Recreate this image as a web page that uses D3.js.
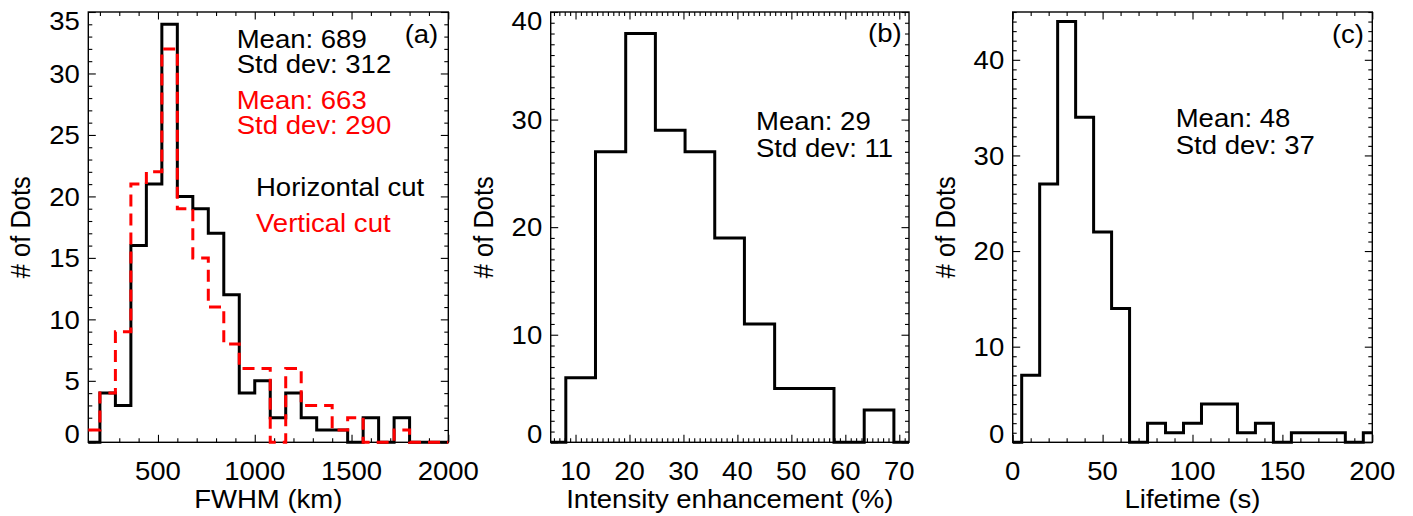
<!DOCTYPE html>
<html>
<head>
<meta charset="utf-8">
<script src="https://cdn.jsdelivr.net/npm/d3@7"></script>
<style>
  body { margin: 0; background: #fff; }
  svg { display: block; }
  text { font-family: "Liberation Sans", Arial, Helvetica, sans-serif; }
</style>
</head>
<body>
<svg id="fig" width="1413" height="516"></svg>
<script>
// (a) FWHM histograms: lower bin edges (km) and counts
const fwhmEdges = [140, 200, 280, 360, 440, 520, 600, 680, 760, 840, 920, 1000, 1080, 1160, 1240, 1320, 1400, 1480, 1560, 1640, 1720, 1800];
const fwhmHorizontal = [0, 4, 3, 16, 21, 34, 20, 19, 17, 12, 4, 5, 2, 4, 2, 1, 1, 0, 2, 0, 2, 0];
const fwhmVertical   = [1, 4, 9, 21, 22, 32, 19, 15, 11, 8, 6, 6, 0, 6, 3, 3, 1, 2, 0, 0, 1, 0];

// (b) intensity enhancement (%)
const intensityEdges  = [5.4, 8.2, 13.7, 19.3, 24.8, 30.3, 35.8, 41.3, 46.9, 52.4, 57.9, 63.5, 69.0];
const intensityCounts = [0, 6, 27, 38, 29, 27, 19, 11, 5, 5, 0, 3, 0];

// (c) lifetime (s)
const lifetimeEdges  = [0, 5, 15, 25, 35, 45, 55, 65, 75, 85, 95, 105, 115, 125, 135, 145, 155, 165, 175, 185, 195];
const lifetimeCounts = [0, 7, 27, 44, 34, 22, 14, 0, 2, 1, 2, 4, 4, 1, 2, 0, 1, 1, 1, 0, 1];

// tick labels
const fwhmTicks = [500, 1000, 1500, 2000];
const intensityTicks = [10, 20, 30, 40, 50, 60, 70];
const lifetimeTicks = [0, 50, 100, 150, 200];
const countTicksA = [0, 5, 10, 15, 20, 25, 30, 35];
const countTicksB = [0, 10, 20, 30, 40];
const countTicksC = [0, 10, 20, 30, 40];

const FS = 25.5;     // font size
const SX = 1.08;     // the original figure is a bit wider than tall
const TOP = 12, BOTTOM = 442.3;

const svg = d3.select("#fig");

function txt(g, x, y, s, anchor, color, rot) {
    let tr = `translate(${x},${y}) scale(${SX},1)` + (rot ? " rotate(-90)" : "");
    return g.append("text")
        .attr("transform", tr)
        .attr("text-anchor", anchor || "start")
        .attr("font-size", FS)
        .attr("fill", color || "#000")
        .text(s);
}

function drawPanel(p) {
    const g = svg.append("g");
    const x = d3.scaleLinear().domain(p.xDomain).range([p.left, p.right]);
    const y = d3.scaleLinear().domain(p.yDomain).range([BOTTOM, TOP]);

    // ticks on all four sides, pointing inward
    const ax = [
        [d3.axisBottom, BOTTOM, x], [d3.axisTop, TOP, x]
    ];
    ax.forEach(([fn, pos, sc]) => {
        g.append("g").attr("transform", `translate(0,${pos})`)
            .call(fn(sc).tickValues(p.xMinor).tickSize(-4).tickFormat(""))
            .call(a => a.select(".domain").remove());
        g.append("g").attr("transform", `translate(0,${pos})`)
            .call(fn(sc).tickValues(p.xMajor).tickSize(-7.5).tickFormat(""))
            .call(a => a.select(".domain").remove());
    });
    [[d3.axisLeft, p.left], [d3.axisRight, p.right]].forEach(([fn, pos]) => {
        g.append("g").attr("transform", `translate(${pos},0)`)
            .call(fn(y).tickValues(p.yMinor).tickSize(-4).tickFormat(""))
            .call(a => a.select(".domain").remove());
        g.append("g").attr("transform", `translate(${pos},0)`)
            .call(fn(y).tickValues(p.yMajor).tickSize(-7.5).tickFormat(""))
            .call(a => a.select(".domain").remove());
    });
    g.selectAll(".tick line").attr("stroke", "#000").attr("stroke-width", 1.1);

    // frame
    g.append("rect")
        .attr("x", p.left).attr("y", TOP)
        .attr("width", p.right - p.left).attr("height", BOTTOM - TOP)
        .attr("fill", "none").attr("stroke", "#000").attr("stroke-width", 1.4);

    // tick labels
    p.xMajor.forEach(v => txt(g, x(v), 480, String(v), "middle"));
    p.yMajor.forEach(v => {
        let cy = Math.min(Math.max(y(v), TOP + 9), BOTTOM - 9);
        txt(g, p.left - 8.5, cy + 9.2, String(v), "end");
    });

    // axis titles
    txt(g, (p.left + p.right) / 2, 508, p.xTitle, "middle");
    txt(g, p.left - 58, (TOP + BOTTOM) / 2, "# of Dots", "middle", "#000", true);

    // histograms
    const line = d3.line().x(d => x(d[0])).y(d => y(d[1])).curve(d3.curveStepAfter);
    p.series.forEach(s => {
        let pts = s.edges.map((e, i) => [e, s.counts[i]]);
        pts.push([p.xDomain[1], s.counts[s.counts.length - 1]]);
        g.append("path")
            .attr("d", line(pts))
            .attr("fill", "none")
            .attr("stroke", s.color)
            .attr("stroke-width", 3)
            .attr("stroke-dasharray", s.dash || null);
    });
    return g;
}

const gA = drawPanel({
    left: 88.3, right: 448.3,
    xDomain: [140, 2000], yDomain: [0, 35],
    xMajor: fwhmTicks, xMinor: d3.range(200, 2000, 100).filter(v => v % 500),
    yMajor: countTicksA, yMinor: d3.range(1, 35).filter(v => v % 5),
    xTitle: "FWHM (km)",
    series: [
        { edges: fwhmEdges, counts: fwhmHorizontal, color: "#000" },
        { edges: fwhmEdges, counts: fwhmVertical, color: "#ff0000", dash: "12,7" }
    ]
});
txt(gA, 236.7, 48.3, "Mean: 689");
txt(gA, 236.7, 72.7, "Std dev: 312");
txt(gA, 236.7, 109.3, "Mean: 663", "start", "#ff0000");
txt(gA, 236.7, 134, "Std dev: 290", "start", "#ff0000");
txt(gA, 256, 196, "Horizontal cut");
txt(gA, 256, 232.3, "Vertical cut", "start", "#ff0000");
txt(gA, 438.3, 43, "(a)", "end");

const gB = drawPanel({
    left: 550.7, right: 909,
    xDomain: [5.4, 71.8], yDomain: [0, 40],
    xMajor: intensityTicks, xMinor: d3.range(6, 72, 1).filter(v => v % 10),
    yMajor: countTicksB, yMinor: d3.range(1, 40).filter(v => v % 10),
    xTitle: "Intensity enhancement (%)",
    series: [{ edges: intensityEdges, counts: intensityCounts, color: "#000" }]
});
txt(gB, 756, 130, "Mean: 29");
txt(gB, 756, 156.7, "Std dev: 11");
txt(gB, 901.7, 42, "(b)", "end");

const gC = drawPanel({
    left: 1012.7, right: 1372.3,
    xDomain: [0, 200], yDomain: [0, 45],
    xMajor: lifetimeTicks, xMinor: d3.range(10, 200, 10).filter(v => v % 50),
    yMajor: countTicksC, yMinor: d3.range(1, 46).filter(v => v % 10),
    xTitle: "Lifetime (s)",
    series: [{ edges: lifetimeEdges, counts: lifetimeCounts, color: "#000" }]
});
txt(gC, 1175.7, 126.7, "Mean: 48");
txt(gC, 1175.7, 154, "Std dev: 37");
txt(gC, 1364, 43, "(c)", "end");
</script>
</body>
</html>
